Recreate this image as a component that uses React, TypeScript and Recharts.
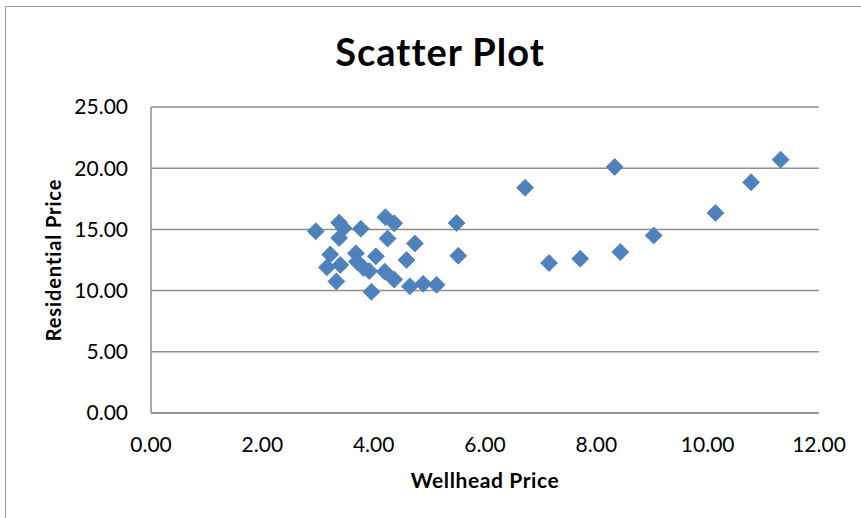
import { ScatterChart, Scatter, XAxis, YAxis, CartesianGrid } from "recharts";

// wellhead price (x) and residential price (y)
const wellhead = [
  2.96, 3.38, 3.46, 3.38, 3.22, 3.40, 3.16, 3.33, 3.68, 3.70, 3.82, 3.92,
  4.04, 3.96, 3.77, 4.21, 4.37, 4.25, 4.20, 4.37, 4.74, 4.59, 4.65, 4.89,
  5.13, 5.49, 5.52, 6.72, 7.15, 7.71, 8.33, 8.43, 9.03, 10.14, 10.78, 11.31,
];
const residential = [
  14.85, 15.55, 15.1, 14.3, 12.95, 12.1, 11.9, 10.75, 13.05, 12.35, 11.85, 11.6,
  12.8, 9.9, 15.05, 16.0, 15.5, 14.25, 11.55, 10.9, 13.85, 12.5, 10.35, 10.55,
  10.47, 15.52, 12.85, 18.4, 12.25, 12.6, 20.1, 13.15, 14.5, 16.35, 18.85, 20.7,
];
const xTicks = [0, 2, 4, 6, 8, 10, 12];
const yTicks = [0, 5, 10, 15, 20, 25];

const points = wellhead.map((x, i) => ({ x, y: residential[i] }));

const FONT = "Lato, 'DejaVu Sans', sans-serif";
const GRID = "#8f8f8f";

const Diamond = (props: any) => {
  const { cx, cy } = props;
  const r = 8.5;
  return (
    <path
      d={`M${cx},${cy - r}L${cx + r},${cy}L${cx},${cy + r}L${cx - r},${cy}Z`}
      fill="#4F81BD"
      stroke="#4A7EBB"
      strokeWidth={0.75}
    />
  );
};

export default function App() {
  return (
    <div
      style={{
        position: "absolute",
        left: 0,
        top: 0,
        width: 861,
        height: 518,
        overflow: "hidden",
        background: "#fff",
        fontFamily: FONT,
      }}
    >
      <div
        style={{
          position: "absolute",
          left: 5,
          top: 6,
          width: 1000,
          height: 1000,
          border: "1px solid #9a9a9a",
        }}
      />
      <div style={{ position: "absolute", left: 0, top: 0 }}>
        <ScatterChart
          width={861}
          height={518}
          margin={{ top: 107, right: 42, left: 0, bottom: 0 }}
        >
          <CartesianGrid vertical={false} stroke={GRID} strokeWidth={1.5} />
          <XAxis
            type="number"
            dataKey="x"
            domain={[0, 12]}
            ticks={xTicks}
            tickFormatter={(v: number) => v.toFixed(2)}
            height={105}
            tickLine={false}
            tickSize={0}
            tickMargin={24}
            axisLine={{ stroke: GRID, strokeWidth: 1.5 }}
            tick={{ fill: "#000", fontSize: 21, fontFamily: FONT }}
            interval={0}
            label={{
              value: "Wellhead Price",
              position: "insideBottom",
              offset: 30,
              style: {
                fill: "#000",
                fontSize: 21,
                fontWeight: 700,
                fontFamily: FONT,
                letterSpacing: 0.6,
              },
            }}
          />
          <YAxis
            type="number"
            dataKey="y"
            domain={[0, 25]}
            ticks={yTicks}
            tickFormatter={(v: number) => v.toFixed(2)}
            width={151}
            tickLine={false}
            tickSize={0}
            tickMargin={23}
            axisLine={{ stroke: GRID, strokeWidth: 1.5 }}
            tick={{ fill: "#000", fontSize: 21, fontFamily: FONT }}
            interval={0}
            label={{
              value: "Residential Price",
              angle: -90,
              position: "insideLeft",
              offset: 54,
              style: {
                textAnchor: "middle",
                fill: "#000",
                fontSize: 20,
                fontWeight: 700,
                fontFamily: FONT,
                letterSpacing: 0.9,
              },
            }}
          />
          <Scatter data={points} shape={Diamond} isAnimationActive={false} />
        </ScatterChart>
      </div>
      <svg
        width={861}
        height={518}
        style={{ position: "absolute", left: 0, top: 0, pointerEvents: "none" }}
      >
        <text
          x={440}
          y={66}
          textAnchor="middle"
          fontFamily={FONT}
          fontSize={38}
          fontWeight={700}
          letterSpacing={1}
          fill="#000"
        >
          Scatter Plot
        </text>
      </svg>
    </div>
  );
}
